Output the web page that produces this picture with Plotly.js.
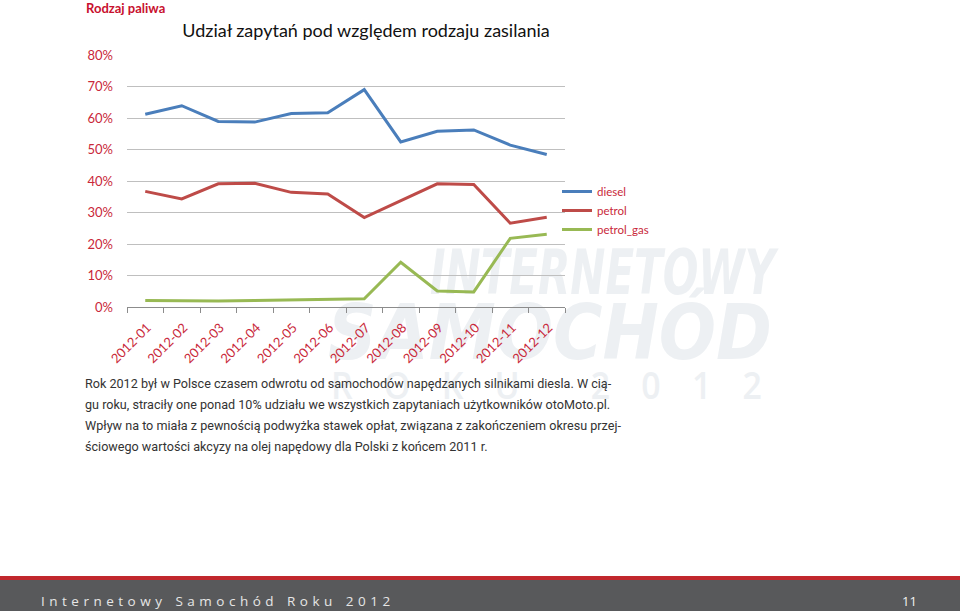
<!DOCTYPE html>
<html>
<head>
<meta charset="utf-8">
<script src="https://cdn.plot.ly/plotly-3.0.1.min.js"></script>
<style>
  html, body { margin: 0; padding: 0; background: #ffffff; }
  #wrap { position: relative; width: 960px; height: 611px; }
  #chart { position: absolute; left: 0; top: 0; width: 960px; height: 611px; z-index: 1; }
  #wm { position: absolute; left: 0; top: 0; width: 960px; height: 611px; z-index: 0; overflow: hidden; }
  .wmt { position: absolute; white-space: nowrap; color: #edf0f3; font-family: 'DejaVu Sans Condensed', 'DejaVu Sans', sans-serif; font-weight: bold; font-style: italic; line-height: 1; transform-origin: 0 0; }
</style>
</head>
<body>
<div id="wrap">
  <div id="wm">
    <div class="wmt" id="wm1" style="font-size:62px;">INTERNETOWY</div>
    <div class="wmt" id="wm2" style="font-size:76px;">SAMOCHÓD</div>
    <div class="wmt" id="wm3" style="font-size:37px; font-style:normal; font-weight:600; font-family:'Open Sans', sans-serif; letter-spacing:34px;">ROKU&nbsp;2012</div>
  </div>
  <div id="chart"></div>
</div>
<script>
// ---- data ----
var months = ["2012-01","2012-02","2012-03","2012-04","2012-05","2012-06","2012-07","2012-08","2012-09","2012-10","2012-11","2012-12"];
var diesel = [0.612, 0.639, 0.589, 0.587, 0.614, 0.617, 0.690, 0.524, 0.558, 0.562, 0.514, 0.484];
var petrol = [0.367, 0.343, 0.391, 0.393, 0.364, 0.359, 0.284, 0.338, 0.391, 0.389, 0.266, 0.285];
var petrolGas = [0.021, 0.019, 0.019, 0.021, 0.023, 0.023, 0.026, 0.142, 0.051, 0.048, 0.218, 0.231];
var seriesNames = ["diesel", "petrol", "petrol_gas"];
var yTicks = [0, 0.1, 0.2, 0.3, 0.4, 0.5, 0.6, 0.7, 0.8];

var titleText = "Udział zapytań pod względem rodzaju zasilania";
var headerText = "Rodzaj paliwa";
var bodyLines = [
  "Rok 2012 był w Polsce czasem odwrotu od samochodów napędzanych silnikami diesla. W cią-",
  "gu roku, straciły one ponad 10% udziału we wszystkich zapytaniach użytkowników otoMoto.pl.",
  "Wpływ na to miała z pewnością podwyżka stawek opłat, związana z zakończeniem okresu przej-",
  "ściowego wartości akcyzy na olej napędowy dla Polski z końcem 2011 r."
];
var footerWords = ["Internetowy", "Samochód", "Roku", "2012"];
var pageNumber = "11";

// ---- watermark fitting (decorative background logo) ----
function fitBox(id, left, right, top) {
  var el = document.getElementById(id);
  el.style.left = "0px"; el.style.top = "0px"; el.style.transform = "none";
  var r = el.getBoundingClientRect();
  var sx = (right - left) / r.width;
  el.style.left = left + "px";
  el.style.top = top + "px";
  el.style.transform = "scaleX(" + sx + ")";
}
fitBox("wm1", 430, 775, 242);
fitBox("wm2", 328, 772, 295);
fitBox("wm3", 331, 793, 366);

// ---- layout geometry ----
var W = 960, H = 611;
var L = 127, R = 565, T = 55, B = 307;
function px2x(px) { return (px - L) / (R - L); }
function px2y(py) { return (B - py) / (B - T); }

var red = "#c9283a";
var colors = ["#4a7ebb", "#be4b48", "#98b954"];
var font = "Lato, 'Open Sans', sans-serif";

var traces = [diesel, petrol, petrolGas].map(function (vals, i) {
  return {
    type: "scatter",
    mode: "lines",
    name: seriesNames[i],
    x: months,
    y: vals,
    line: { color: colors[i], width: 3 },
    hoverinfo: "x+y+name"
  };
});

var sp = "\u2004";
var footerText = footerWords.map(function (w) { return w.split("").join(sp); }).join(sp + sp + sp);

var annotations = [];
annotations.push({ xref: "paper", yref: "paper", x: px2x(84), y: px2y(7.5), text: "<b>" + headerText + "</b>",
  showarrow: false, font: { family: font, size: 13, color: "#c8102e" }, xanchor: "left", yanchor: "middle" });
bodyLines.forEach(function (line, i) {
  annotations.push({ xref: "paper", yref: "paper", x: px2x(83), y: px2y(383 + i * 21), text: line,
    showarrow: false, font: { family: "Roboto, sans-serif", size: 12.6, color: "#333333" }, xanchor: "left", yanchor: "middle" });
});
annotations.push({ xref: "paper", yref: "paper", x: px2x(39), y: px2y(601), text: footerText,
  showarrow: false, font: { family: "'Open Sans', sans-serif", size: 13.5, color: "#e6e6e6" }, xanchor: "left", yanchor: "middle" });
annotations.push({ xref: "paper", yref: "paper", x: px2x(919), y: px2y(601), text: pageNumber,
  showarrow: false, font: { family: "'Open Sans', sans-serif", size: 13, color: "#f2f2f2" }, xanchor: "right", yanchor: "middle" });

var shapes = [
  { type: "rect", xref: "paper", yref: "paper", x0: px2x(0), x1: px2x(W), y0: px2y(H), y1: px2y(580),
    fillcolor: "#58595b", line: { width: 0 }, layer: "below" },
  { type: "rect", xref: "paper", yref: "paper", x0: px2x(0), x1: px2x(W), y0: px2y(580), y1: px2y(576),
    fillcolor: "#c1272d", line: { width: 0 }, layer: "below" }
];

var layout = {
  width: W, height: H,
  margin: { l: L, r: W - R, t: T, b: H - B, pad: 0 },
  paper_bgcolor: "rgba(0,0,0,0)",
  plot_bgcolor: "rgba(0,0,0,0)",
  font: { family: font, color: red },
  title: {
    text: titleText,
    font: { family: font, size: 18, color: "#111111" },
    xref: "paper", x: px2x(366), xanchor: "center",
    yref: "container", y: 1 - 31 / H, yanchor: "middle"
  },
  showlegend: true,
  legend: {
    x: px2x(557), y: px2y(177), xanchor: "left", yanchor: "top",
    font: { family: font, size: 11.5, color: red },
    bgcolor: "rgba(0,0,0,0)", itemwidth: 30, tracegroupgap: 0
  },
  xaxis: {
    type: "category",
    range: [-0.5, months.length - 0.5],
    tickmode: "array", tickvals: months, ticktext: months,
    tickson: "boundaries",
    ticks: "outside", ticklen: 5, tickcolor: "#8c8c8c", tickwidth: 1,
    tickangle: -45,
    ticklabelshift: 2, ticklabelstandoff: 7,
    tickfont: { family: font, size: 13, color: red },
    showline: true, linecolor: "#8c8c8c", linewidth: 1,
    showgrid: false, zeroline: false,
    fixedrange: true
  },
  yaxis: {
    range: [0, 0.8],
    tickmode: "array", tickvals: yTicks,
    tickformat: ".0%",
    ticks: "", ticklabelstandoff: 13,
    tickfont: { family: font, size: 13, color: red },
    showgrid: true, gridcolor: "#bfbfbf", gridwidth: 1,
    zeroline: false, showline: false,
    fixedrange: true
  },
  annotations: annotations,
  shapes: shapes
};

Plotly.newPlot("chart", traces, layout, { displayModeBar: false, staticPlot: true });
</script>
</body>
</html>
